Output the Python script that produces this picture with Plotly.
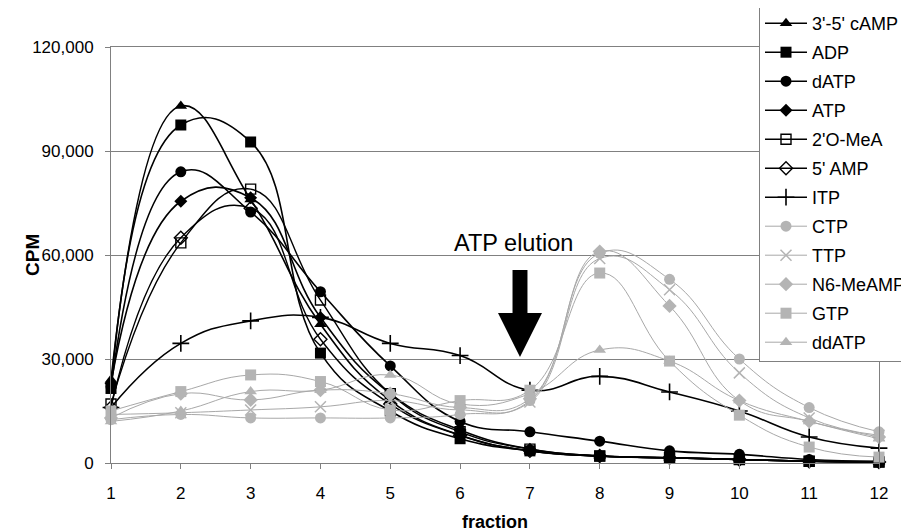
import plotly.graph_objects as go

fractions = [1, 2, 3, 4, 5, 6, 7, 8, 9, 10, 11, 12]

camp35 = [24000, 103000, 76000, 40000, 18000, 8000, 3500, 2000, 1500, 1000, 500, 300]
adp = [21500, 97500, 92600, 31700, 15000, 7000, 3500, 2000, 1500, 1000, 500, 300]
datp = [22000, 84000, 72400, 49400, 28000, 12000, 9000, 6300, 3500, 2500, 1000, 500]
atp = [23000, 75500, 76500, 42000, 20000, 9500, 4000, 2000, 1500, 1000, 500, 300]
ome2 = [17000, 63500, 79000, 47000, 20000, 9000, 4000, 2000, 1500, 1000, 500, 300]
amp5 = [16000, 65000, 73500, 35700, 17000, 8000, 3500, 2000, 1500, 1000, 500, 300]
itp = [16000, 34500, 41000, 42000, 34500, 31000, 21000, 25000, 20500, 15000, 7500, 4300]
ctp = [12500, 14000, 13000, 13000, 13000, 14000, 18000, 60500, 53000, 30000, 16000, 9000]
ttp = [14000, 14500, 15300, 16200, 18000, 15300, 17600, 59000, 50000, 26000, 13000, 8000]
n6meamp = [13000, 20000, 18200, 21000, 20000, 16000, 18500, 61000, 45300, 18000, 12000, 7500]
gtp = [15000, 20600, 25400, 23500, 15300, 18000, 21000, 54800, 29400, 13800, 4600, 1700]
ddatp = [12000, 15000, 20600, 21000, 25400, 17000, 20000, 32600, 29400, 18000, 12000, 7000]

series_names = ["3'-5' cAMP", "ADP", "dATP", "ATP", "2'O-MeA", "5' AMP", "ITP",
                "CTP", "TTP", "N6-MeAMP", "GTP", "ddATP"]
series_values = [camp35, adp, datp, atp, ome2, amp5, itp, ctp, ttp, n6meamp, gtp, ddatp]

y_ticks = [0, 30000, 60000, 90000, 120000]
annotation_text = "ATP elution"

BLACK = "#000000"
GRAY_LINE = "#a8a8a8"
GRAY_MARK = "#b4b4b4"

styles = [
    dict(symbol="triangle-up", size=11, color=BLACK, line=None, lc=BLACK, lw=1.6),
    dict(symbol="square", size=11, color=BLACK, line=None, lc=BLACK, lw=1.6),
    dict(symbol="circle", size=11, color=BLACK, line=None, lc=BLACK, lw=1.6),
    dict(symbol="diamond", size=10, color=BLACK, line=None, lc=BLACK, lw=1.6),
    dict(symbol="square-open", size=10, color=BLACK, line=1.4, lc=BLACK, lw=1.4),
    dict(symbol="diamond-open", size=10, color=BLACK, line=1.4, lc=BLACK, lw=1.4),
    dict(symbol="cross-thin-open", size=12, color=BLACK, line=1.6, lc=BLACK, lw=1.6),
    dict(symbol="circle", size=11, color=GRAY_MARK, line=None, lc=GRAY_LINE, lw=1),
    dict(symbol="x-thin-open", size=11, color=GRAY_MARK, line=1.5, lc=GRAY_LINE, lw=1),
    dict(symbol="diamond", size=11, color=GRAY_MARK, line=None, lc=GRAY_LINE, lw=1),
    dict(symbol="square", size=11, color=GRAY_MARK, line=None, lc=GRAY_LINE, lw=1),
    dict(symbol="triangle-up", size=11, color=GRAY_MARK, line=None, lc=GRAY_LINE, lw=1),
]

fig = go.Figure()
for i, (name, vals, st) in enumerate(zip(series_names, series_values, styles)):
    marker = dict(symbol=st["symbol"], size=st["size"], color=st["color"])
    if st["line"] is not None:
        marker["line"] = dict(color=st["color"], width=st["line"])
    else:
        marker["line"] = dict(width=0)
    fig.add_trace(go.Scatter(
        x=fractions, y=vals, name=name, mode="lines+markers",
        line=dict(color=st["lc"], width=st["lw"], shape="spline", smoothing=1.3),
        marker=marker, cliponaxis=False, legendgroup=f"g{i}",
    ))

# "ATP elution" arrow, expressed in data units
AX = 6.858
shaft_hw, head_hw = 0.107, 0.315
shaft_top, head_base, tip = 55700, 43300, 30600
path = (f"M {AX-shaft_hw},{shaft_top} L {AX+shaft_hw},{shaft_top} L {AX+shaft_hw},{head_base} "
        f"L {AX+head_hw},{head_base} L {AX},{tip} L {AX-head_hw},{head_base} "
        f"L {AX-shaft_hw},{head_base} Z")
fig.add_shape(type="path", path=path, xref="x", yref="y",
              fillcolor="black", line=dict(color="black", width=0))

fig.add_annotation(x=6.76, y=63500, xref="x", yref="y", text=annotation_text,
                   showarrow=False, font=dict(size=23.5, color="black"))

# page body has an 8px margin: figure is offset by 8px
L, T, PW, PH = 103, 39, 768, 416
W, H = 901, 524

fig.add_annotation(x=(32 - 8 - L) / PW, y=0.5, xref="paper", yref="paper",
                   xanchor="center", yanchor="middle",
                   text="<b>CPM</b>", textangle=-90, showarrow=False,
                   font=dict(size=19, color="black"))

font_family = "Liberation Sans, Arial, sans-serif"
fig.update_layout(
    width=W, height=H,
    margin=dict(l=L, r=W - L - PW, t=T, b=H - T - PH, autoexpand=False),
    paper_bgcolor="white", plot_bgcolor="white",
    font=dict(family=font_family, size=17, color="black"),
    showlegend=True,
    legend=dict(
        x=(759 - 8 - L) / PW, y=(T + PH - (362 - 8)) / PH,
        xanchor="left", yanchor="bottom",
        bgcolor="white", bordercolor="#808080", borderwidth=1,
        font=dict(size=18, color="black"), tracegroupgap=2.6, traceorder="grouped",
        itemwidth=42,
    ),
    xaxis=dict(
        range=[1, 12], tickmode="array", tickvals=fractions,
        ticks="outside", ticklen=5, tickcolor="#808080",
        showgrid=False, zeroline=False,
        showline=True, linecolor="#808080", linewidth=1, mirror=True,
        title=dict(text="<b>fraction</b>", font=dict(size=18), standoff=12),
        tickfont=dict(size=17), ticklabelstandoff=10,
    ),
    yaxis=dict(
        range=[0, 120000], tickmode="array", tickvals=y_ticks,
        ticktext=[f"{v:,}" for v in y_ticks],
        ticks="outside", ticklen=5, tickcolor="#808080",
        showgrid=True, gridcolor="#808080", gridwidth=1, zeroline=False,
        showline=True, linecolor="#808080", linewidth=1, mirror=True,
        tickfont=dict(size=17), ticklabelstandoff=8,
    ),
)

fig.write_html("out.html")
